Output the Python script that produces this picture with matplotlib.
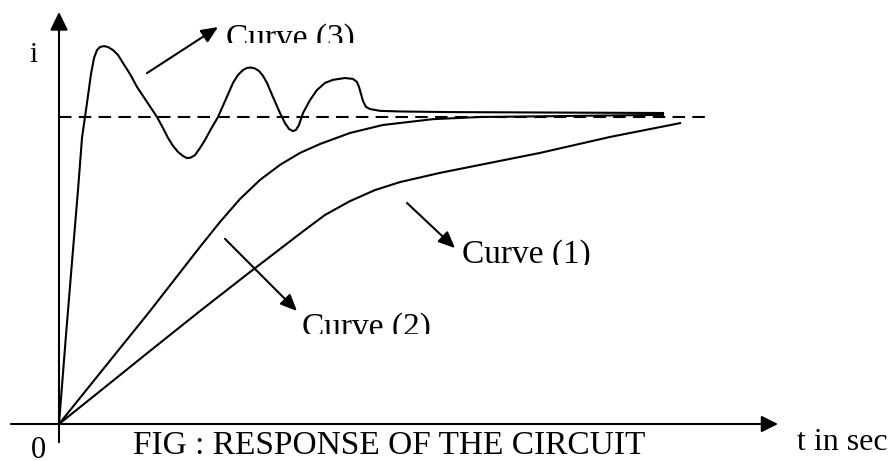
import matplotlib.pyplot as plt
from matplotlib.transforms import Bbox, TransformedBbox

# curve (3): oscillating response, i normalised to the final value
t3 = [0.00, 0.07, 0.14, 0.19, 0.23, 0.28, 0.32, 0.35, 0.38, 0.41, 0.45, 0.49, 0.54,
      0.59, 0.64, 0.71, 0.78, 0.88, 0.98, 1.04, 1.09, 1.14, 1.19, 1.24, 1.28, 1.32,
      1.36, 1.41, 1.46, 1.52, 1.59, 1.67, 1.74, 1.79, 1.84, 1.88, 1.92, 1.96, 2.00,
      2.04, 2.08, 2.14, 2.21, 2.26, 2.30, 2.34, 2.37, 2.40, 2.44, 2.51, 2.58, 2.66,
      2.74, 2.86, 2.94, 2.98, 3.00, 3.02, 3.04, 3.07, 3.11, 3.21, 3.41, 3.91, 6.04]
i3 = [0.000, 0.290, 0.567, 0.762, 0.932, 1.046, 1.140, 1.192, 1.218, 1.228, 1.231,
      1.228, 1.218, 1.202, 1.176, 1.140, 1.098, 1.049, 1.000, 0.964, 0.932, 0.906,
      0.886, 0.873, 0.866, 0.868, 0.876, 0.899, 0.925, 0.961, 1.000, 1.059, 1.111,
      1.137, 1.153, 1.160, 1.161, 1.158, 1.150, 1.134, 1.111, 1.065, 1.013, 0.980,
      0.961, 0.954, 0.958, 0.974, 1.013, 1.055, 1.088, 1.111, 1.121, 1.127, 1.124,
      1.114, 1.098, 1.075, 1.052, 1.033, 1.026, 1.020, 1.018, 1.016, 1.013]

# curve (2)
t2 = [0.00, 0.41, 0.91, 1.41, 1.61, 1.81, 2.01, 2.21, 2.41, 2.61, 2.91, 3.24, 3.74,
      4.21, 5.01, 6.04]
i2 = [0.000, 0.166, 0.368, 0.577, 0.658, 0.733, 0.795, 0.844, 0.883, 0.912, 0.948,
      0.974, 0.993, 1.000, 1.003, 1.007]

# curve (1)
t1 = [0.00, 0.41, 0.91, 1.41, 1.91, 2.21, 2.43, 2.66, 2.91, 3.16, 3.41, 3.81, 4.21,
      4.81, 5.51, 6.21]
i1 = [0.000, 0.107, 0.238, 0.368, 0.495, 0.570, 0.625, 0.681, 0.726, 0.762, 0.788,
      0.818, 0.844, 0.883, 0.935, 0.980]

i_final = 1.0
t_dash_end = 6.49

fig = plt.figure(figsize=(8.91, 4.61), dpi=100)
ax = fig.add_axes([0, 0, 1, 1])
ax.set_xlim(-0.59, 8.32)
ax.set_ylim(-0.1205, 1.3811)
ax.axis('off')

font = 'Liberation Serif'
lw = 1.5

# axes with arrow heads
ax.annotate('', xy=(7.19, 0), xytext=(-0.48, 0),
            arrowprops=dict(arrowstyle='-|>,head_length=0.5,head_width=0.25',
                            mutation_scale=20, lw=lw, color='black',
                            shrinkA=0, shrinkB=0))
ax.annotate('', xy=(0, 1.342), xytext=(0, -0.059),
            arrowprops=dict(arrowstyle='-|>,head_length=0.55,head_width=0.27',
                            mutation_scale=20, lw=lw, color='black',
                            shrinkA=0, shrinkB=0))

ax.plot([0, t_dash_end], [i_final, i_final], color='black', lw=lw,
        dashes=(6, 3.5))
ax.plot(t3, i3, color='black', lw=lw, solid_joinstyle='round')
ax.plot(t2, i2, color='black', lw=lw, solid_joinstyle='round')
ax.plot(t1, i1, color='black', lw=lw, solid_joinstyle='round')

arrow = dict(arrowstyle='-|>,head_length=0.5,head_width=0.22',
             mutation_scale=20, lw=lw, color='black', shrinkA=0, shrinkB=0)
ax.annotate('', xy=(1.59, 1.293), xytext=(0.88, 1.143), arrowprops=arrow)
ax.annotate('', xy=(3.96, 0.573), xytext=(3.48, 0.720), arrowprops=arrow)
ax.annotate('', xy=(2.38, 0.368), xytext=(1.66, 0.603), arrowprops=arrow)


def clipped_label(x, y, s, y_clip):
    txt = ax.text(x, y, s, fontsize=24, family=font, va='baseline')
    box = Bbox([[x - 0.2, y_clip], [x + 3.0, y + 0.3]])
    txt.set_clip_box(TransformedBbox(box, ax.transData))
    txt.set_clip_on(True)


clipped_label(1.67, 1.228, 'Curve (3)', 1.241)
clipped_label(4.03, 0.524, 'Curve (1)', 0.518)
clipped_label(2.43, 0.287, 'Curve (2)', 0.293)

ax.text(-0.26, 1.179, 'i', fontsize=21, family=font, ha='center', va='baseline')
ax.text(-0.21, -0.112, '0', fontsize=22, family=font, ha='center', va='baseline')
ax.text(7.38, -0.085, 't in sec', fontsize=23, family=font, va='baseline')
ax.text(0.74, -0.098, 'FIG : RESPONSE OF THE CIRCUIT', fontsize=24, family=font,
        va='baseline')

fig.savefig('out.png', dpi=100)
